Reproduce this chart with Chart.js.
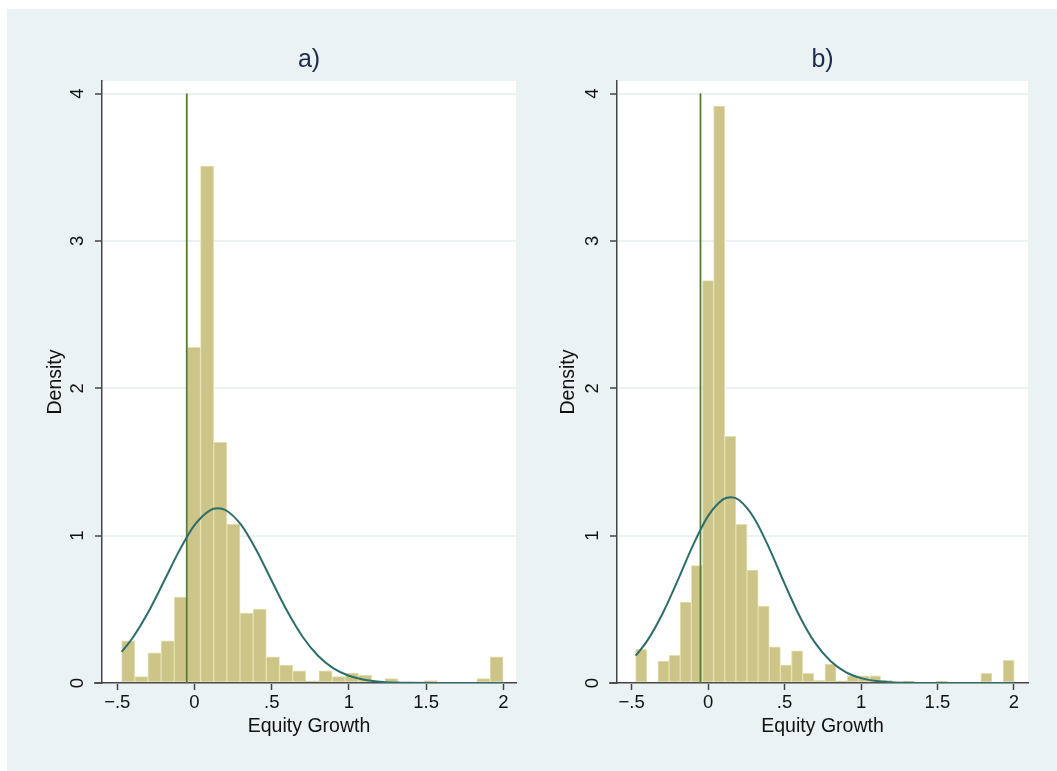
<!DOCTYPE html>
<html lang="en">
<head>
<meta charset="UTF-8">
<title>Equity Growth</title>
<script src="https://cdn.jsdelivr.net/npm/chart.js@4"></script>
<style>
  body { margin: 0; background: #fff; width: 1057px; height: 771px; position: relative; overflow: hidden; }
  #bg { position: absolute; left: 7px; top: 9px; width: 1050px; height: 762px; background: #eaf2f3; }
  .panel { position: absolute; top: 0; }
  #panelA { left: 0; }
  #panelB { left: 515px; }
</style>
</head>
<body>
<div id="bg"></div>
<div class="panel" id="panelA"><canvas id="chartA" width="520" height="771"></canvas></div>
<div class="panel" id="panelB"><canvas id="chartB" width="542" height="771"></canvas></div>

<script>
  // shared axis values
  const xTicks = [-0.5, 0, 0.5, 1, 1.5, 2];
  const yTicks = [0, 1, 2, 3, 4];
  const refLine = -0.05;

  // a) histogram, 29 bins
  const binStartA = -0.472;
  const binWidthA = 0.0852;
  const densityA = [0.286, 0.043, 0.204, 0.286, 0.583, 2.278, 3.508, 1.633, 1.079, 0.474,
                    0.501, 0.177, 0.122, 0.082, 0.014, 0.082, 0.043, 0.068, 0.054, 0,
                    0.030, 0, 0, 0.016, 0, 0, 0, 0.030, 0.177];
  // a) normal density overlay
  const normXA = [-0.472, -0.4, -0.3, -0.2, -0.1, 0, 0.1, 0.15, 0.2, 0.3, 0.4, 0.5, 0.6, 0.7,
                  0.8, 0.9, 1.0, 1.1, 1.2, 1.3, 1.4, 1.6, 1.8, 2.0];
  const normYA = [0.211, 0.307, 0.480, 0.685, 0.895, 1.071, 1.172, 1.186, 1.174, 1.076, 0.903,
                  0.694, 0.488, 0.314, 0.185, 0.0995, 0.049, 0.022, 0.009, 0.0035, 0.001, 0, 0, 0];

  // b) histogram, 34 bins
  const binStartB = -0.474;
  const binWidthB = 0.07282;
  const densityB = [0.229, 0, 0.148, 0.188, 0.549, 0.796, 2.730, 3.914, 1.673, 1.076,
                    0.767, 0.522, 0.245, 0.122, 0.218, 0.066, 0.018, 0.129, 0.015, 0.048,
                    0.048, 0.048, 0.018, 0, 0.011, 0, 0, 0.011, 0, 0,
                    0, 0.066, 0, 0.154];
  const normXB = [-0.474, -0.4, -0.3, -0.2, -0.1, 0, 0.1, 0.15, 0.2, 0.3, 0.4, 0.5, 0.6, 0.7,
                  0.8, 0.9, 1.0, 1.1, 1.2, 1.3, 1.4, 1.6, 1.8, 2.0];
  const normYB = [0.185, 0.284, 0.467, 0.693, 0.932, 1.134, 1.248, 1.261, 1.243, 1.120, 0.914,
                  0.674, 0.450, 0.272, 0.149, 0.074, 0.033, 0.013, 0.005, 0.0016, 0.0005, 0, 0, 0];

  const family = '"Liberation Sans", Arial, Helvetica, sans-serif';
  const axisColor = '#444444';

  // Stata style labels: -.5, 0, .5, 1 ...
  function fmt(v) {
    if (v === 0) return '0';
    const s = String(Math.abs(v)).replace(/^0\./, '.');
    return (v < 0 ? '\u2212' : '') + s;
  }

  // white plot region, panel title, and the x axis stub left of the y axis
  const panelDecor = {
    id: 'panelDecor',
    beforeDraw(chart) {
      const { ctx, chartArea: a } = chart;
      ctx.save();
      ctx.fillStyle = '#ffffff';
      ctx.fillRect(a.left, a.top, a.right - a.left, a.bottom - a.top);
      ctx.restore();
    },
    afterDraw(chart, args, opts) {
      const { ctx, chartArea: a } = chart;
      ctx.save();
      ctx.fillStyle = '#1c2b4e';
      ctx.font = '25px ' + family;
      ctx.textAlign = 'center';
      ctx.textBaseline = 'middle';
      ctx.fillText(opts.title, (a.left + a.right) / 2, 60);
      ctx.strokeStyle = axisColor;
      ctx.lineWidth = 1.5;
      ctx.beginPath();
      ctx.moveTo(a.left - 8, a.bottom);
      ctx.lineTo(a.left, a.bottom);
      ctx.stroke();
      ctx.restore();
    }
  };

  function makePanel(id, title, binStart, binWidth, density, normX, normY, xMin, xMax, padRight, yTitlePad) {
    const bars = density.map((d, i) => ({ x: binStart + (i + 0.5) * binWidth, y: d }));
    const curve = normX.map((x, i) => ({ x: x, y: normY[i] }));
    const vline = [{ x: refLine, y: 0 }, { x: refLine, y: 4 }];

    new Chart(document.getElementById(id).getContext('2d'), {
      type: 'bar',
      data: {
        datasets: [
          {
            type: 'line', data: curve, borderColor: '#2c6e6c', borderWidth: 2,
            pointRadius: 0, fill: false, cubicInterpolationMode: 'monotone', order: 1
          },
          {
            type: 'line', data: vline, borderColor: '#557d31', borderWidth: 1.8,
            pointRadius: 0, fill: false, order: 2
          },
          {
            type: 'bar', data: bars, backgroundColor: '#ccc587', borderColor: '#e4e0b2',
            borderWidth: 1, borderSkipped: false, barPercentage: 1, categoryPercentage: 1, order: 3
          }
        ]
      },
      options: {
        responsive: false,
        animation: false,
        layout: { padding: { top: 81, right: padRight, bottom: 0, left: 0 } },
        plugins: {
          legend: { display: false },
          tooltip: { enabled: false },
          panelDecor: { title: title }
        },
        scales: {
          x: {
            type: 'linear',
            min: xMin,
            max: xMax,
            offset: false,
            afterBuildTicks: s => { s.ticks = xTicks.map(v => ({ value: v })); },
            afterFit: s => { s.height = 88; },
            grid: { drawOnChartArea: false, offset: false, tickLength: 7, tickColor: axisColor, tickWidth: 1.5 },
            border: { color: axisColor, width: 1.5 },
            ticks: {
              padding: 2, maxRotation: 0, autoSkip: false, color: '#111',
              font: { size: 18.5, family: family },
              callback: v => fmt(v)
            },
            title: {
              display: true, text: 'Equity Growth', color: '#111',
              font: { size: 19.5, family: family },
              padding: { top: 0, bottom: 33 }
            }
          },
          y: {
            min: 0,
            max: 4.085,
            afterBuildTicks: s => { s.ticks = yTicks.map(v => ({ value: v })); },
            afterFit: s => { s.width = 102; },
            grid: { color: '#eaf2f3', lineWidth: 2, tickLength: 7, tickColor: axisColor, tickWidth: 1.5 },
            border: { color: axisColor, width: 1.5 },
            ticks: {
              minRotation: 90, maxRotation: 90, crossAlign: 'center', padding: 12,
              color: '#111', font: { size: 18.5, family: family }
            },
            title: {
              display: true, text: 'Density', color: '#111',
              font: { size: 19.5, family: family },
              padding: { top: yTitlePad, bottom: 0 }
            }
          }
        }
      },
      plugins: [panelDecor]
    });
  }

  makePanel('chartA', 'a)', binStartA, binWidthA, densityA, normXA, normYA, -0.599, 2.082, 4, 44);
  makePanel('chartB', 'b)', binStartB, binWidthB, densityB, normXB, normYB, -0.596, 2.092, 29, 41.5);
</script>
</body>
</html>
